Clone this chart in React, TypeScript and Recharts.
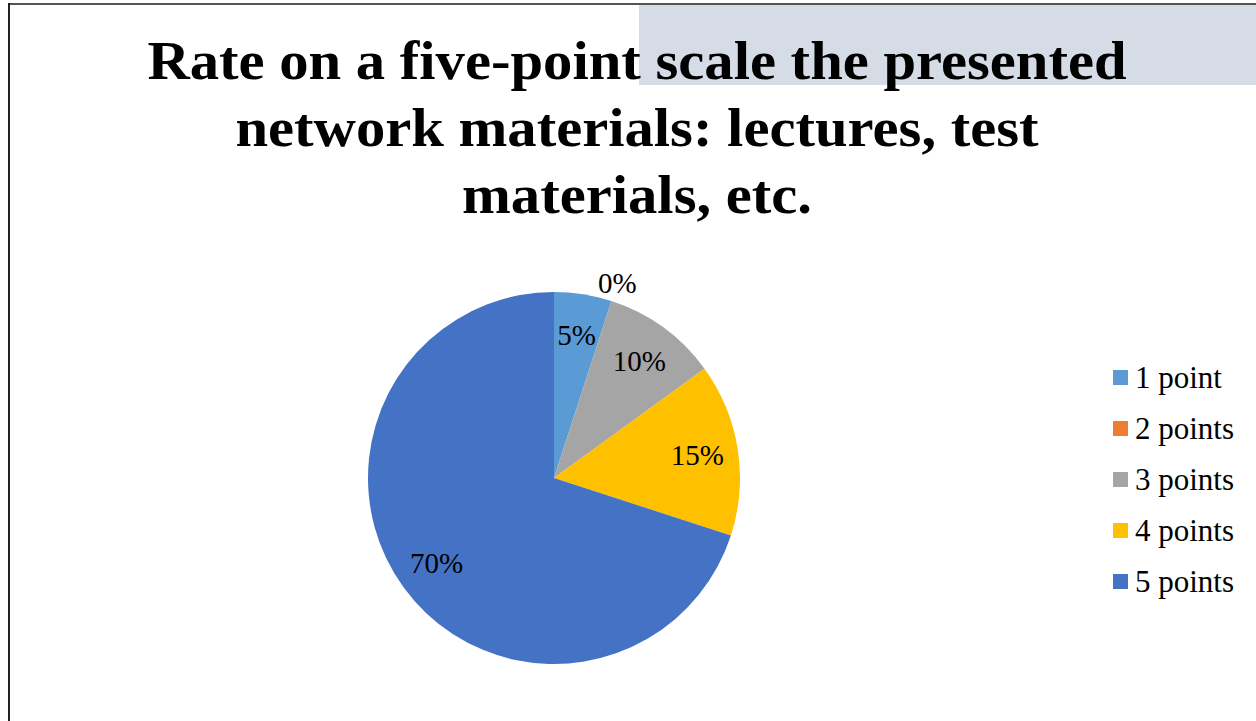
import { PieChart, Pie, Cell, Legend } from 'recharts'

const categories = ['1 point', '2 points', '3 points', '4 points', '5 points']
const shares = [5, 0, 10, 15, 70]
const colors = ['#5B9BD5', '#ED7D31', '#A5A5A5', '#FFC000', '#4472C4']
const titleLines = [
  'Rate on a five-point scale the presented',
  'network materials: lectures, test',
  'materials, etc.',
]

const data = categories.map((name, i) => ({ name, value: shares[i] }))

const RAD = Math.PI / 180
const FONT = '"Liberation Serif", "Times New Roman", serif'

const renderLabel = (props: any) => {
  const { cx, cy, midAngle, outerRadius, value } = props
  const r = value === 0 ? outerRadius * 1.1 : outerRadius * 0.78
  const x = cx + r * Math.cos(-midAngle * RAD)
  const y = cy + r * Math.sin(-midAngle * RAD)
  return (
    <text
      x={x}
      y={y}
      fill="#000"
      textAnchor="middle"
      dominantBaseline="central"
      style={{ fontFamily: FONT, fontSize: 29 }}
    >
      {`${value}%`}
    </text>
  )
}

const LegendBox = () => (
  <div style={{ fontFamily: FONT, fontSize: 31, color: '#000' }}>
    {categories.map((c, i) => (
      <div key={c} style={{ display: 'flex', alignItems: 'center', height: 51 }}>
        <span style={{ width: 15, height: 15, background: colors[i], marginRight: 7, flexShrink: 0 }} />
        <span style={{ whiteSpace: 'nowrap' }}>{c}</span>
      </div>
    ))}
  </div>
)

export default function App() {
  return (
    <div style={{ position: 'absolute', left: 0, top: 0, width: 1256, height: 721, background: '#fff', overflow: 'hidden' }}>
      <div style={{ position: 'absolute', left: 639, top: 5, width: 617, height: 80, background: '#D6DCE5' }} />
      <div style={{ position: 'absolute', left: 8, top: 3, width: 1248, height: 2, background: '#555' }} />
      <div style={{ position: 'absolute', left: 8, top: 3, width: 2, height: 718, background: '#222' }} />
      <div
        style={{
          position: 'absolute',
          left: 10,
          top: 27,
          width: 1254,
          textAlign: 'center',
          fontFamily: FONT,
          fontWeight: 'bold',
          fontSize: 55,
          lineHeight: '67px',
          color: '#000',
          transform: 'scaleX(1.066)',
          transformOrigin: '627px 0',
        }}
      >
        {titleLines.map((t) => (
          <div key={t}>{t}</div>
        ))}
      </div>
      <div style={{ position: 'absolute', left: 0, top: 0 }}>
        <PieChart width={1256} height={721} margin={{ top: 0, right: 0, bottom: 0, left: 0 }}>
          <Pie
            data={data}
            dataKey="value"
            nameKey="name"
            cx={554}
            cy={478}
            outerRadius={186}
            startAngle={90}
            endAngle={-270}
            stroke="none"
            label={renderLabel}
            labelLine={false}
            isAnimationActive={false}
          >
            {data.map((d, i) => (
              <Cell key={d.name} fill={colors[i]} />
            ))}
          </Pie>
          <Legend
            content={<LegendBox />}
            layout="vertical"
            wrapperStyle={{ position: 'absolute', left: 1113, top: 352, width: 160 }}
          />
        </PieChart>
      </div>
    </div>
  )
}
